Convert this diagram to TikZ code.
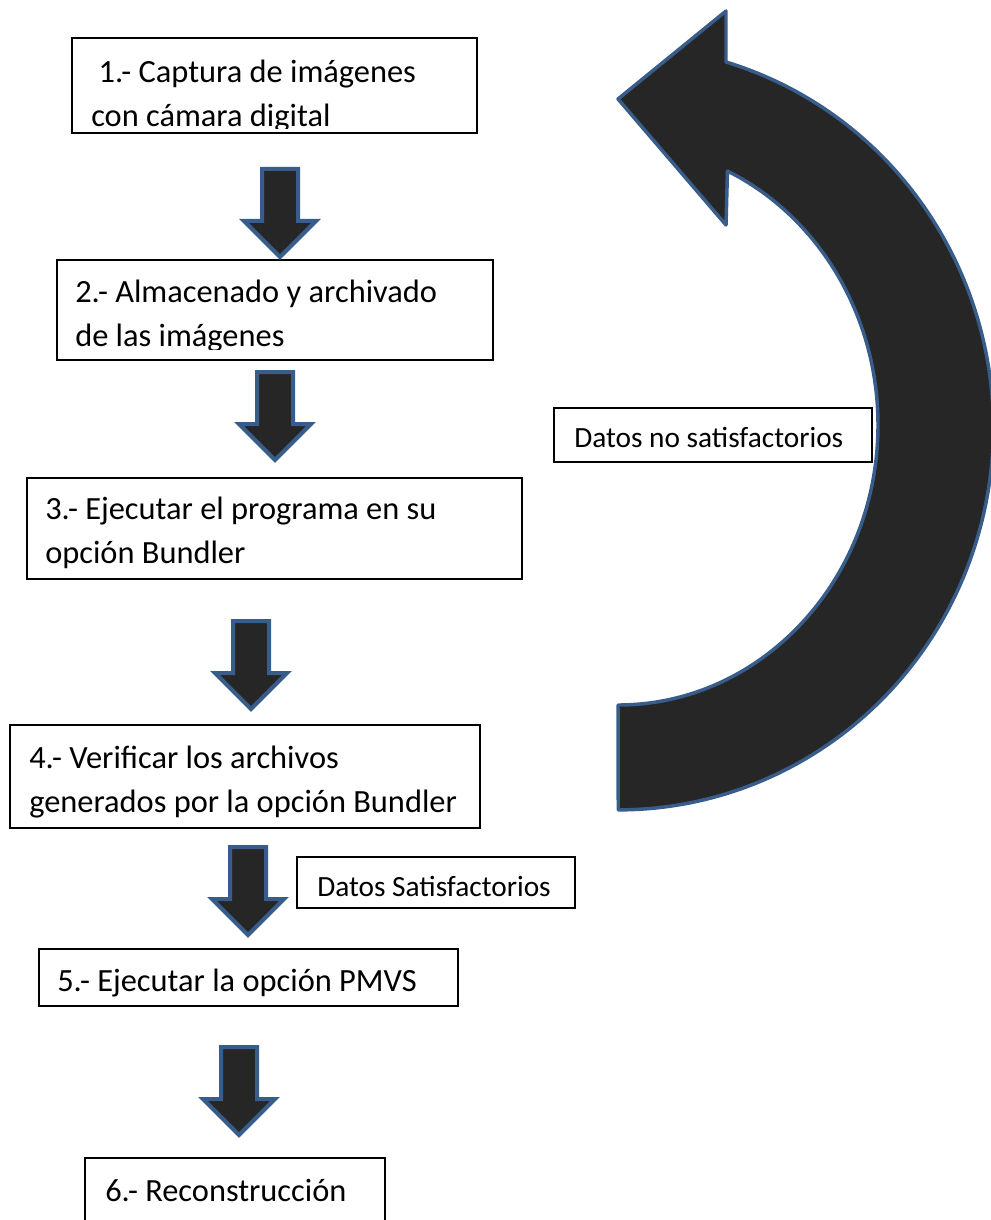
\documentclass[tikz,border=0pt]{standalone}
\usepackage{fontspec}
\setmainfont{Carlito}
\usepackage{xcolor}
\usetikzlibrary{shapes.arrows,fit}
\definecolor{flechagris}{HTML}{262626}
\definecolor{flechaazul}{HTML}{385D8A}

\begin{document}
\begin{tikzpicture}[x=0.75pt,y=-0.75pt]
      \tikzstyle{caja}  =[rectangle,draw=black,line width=0.9pt,inner sep=0pt];
      \tikzstyle{texto} =[anchor=base west,inner sep=0pt,align=left,
                          font=\fontsize{24.3}{33}\selectfont];
      \tikzstyle{nota}  =[anchor=base west,inner sep=0pt,
                          font=\fontsize{22}{26}\selectfont];
      \tikzstyle{flecha}=[single arrow,rotate=-90,anchor=tail,
                          inner xsep=0pt,inner ysep=12pt,
                          minimum height=66pt,
                          single arrow head extend=13.5pt,
                          fill=flechagris,draw=flechaazul,line width=3pt];
      \useasboundingbox (0,0) rectangle (990,1220);
      % cajas de los pasos
      \node[caja,fit={(72,38) (477,133)}]    (paso1) {};
      \node[caja,fit={(57,260) (493,360)}]   (paso2) {};
      \node[caja,fit={(27,478) (522,579)}]   (paso3) {};
      \node[caja,fit={(10,725) (480,828)}]   (paso4) {};
      \node[caja,fit={(39,949) (458,1006)}]  (paso5) {};
      \node[caja,fit={(85,1158) (385,1250)}] (paso6) {};
      % el texto se ancla en la linea de base de la ultima linea
      \begin{scope}
        \clip (72,38) rectangle (477,129);
        \node[texto] (t1) at (91,127) {~1.- Captura de imágenes\\con cámara digital};
      \end{scope}
      \begin{scope}
        \clip (57,260) rectangle (493,349);
        \node[texto] (t2) at (75,346) {2.- Almacenado y archivado\\de las imágenes};
      \end{scope}
      \node[texto] (t3) at (45,563) {3.- Ejecutar el programa en su\\opción Bundler};
      \begin{scope}
        \clip (10,725) rectangle (480,818);
        \node[texto] (t4) at (29,812) {4.- Verificar los archivos\\generados por la opción Bundler};
      \end{scope}
      \node[texto] (t5) at (57,991)  {5.- Ejecutar la opción PMVS};
      \node[texto] (t6) at (105,1201) {6.- Reconstrucción};
      % notas
      \node[caja,fit={(554,408) (872,462)}] (noSat) {};
      \node[nota] (tNoSat) at (574,447) {Datos no satisfactorios};
      \node[caja,fit={(297,857) (575,908)}] (sat) {};
      \node[nota] (tSat) at (317,896) {Datos Satisfactorios};
      % flechas hacia abajo
      \node[flecha] (f1) at (280,167)  {};
      \node[flecha] (f2) at (275,370)  {};
      \node[flecha] (f3) at (251,619)  {};
      \node[flecha] (f4) at (248,845)  {};
      \node[flecha] (f5) at (239,1045) {};
      % flecha curva de regreso
      \filldraw[fill=flechagris,draw=flechaazul,line width=2.6pt,line join=round]
        (618,99) -- (726,11) -- (726,62)
        arc[start angle=-73.3,end angle=90,x radius=375,y radius=382]
        -- (618,705)
        arc[start angle=90,end angle=-65.1,x radius=260,y radius=280]
        -- (726,225) -- cycle;
\end{tikzpicture}
\end{document}
